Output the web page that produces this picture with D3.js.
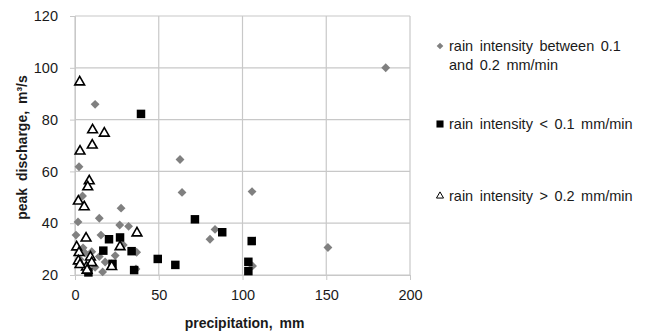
<!DOCTYPE html>
<html>
<head>
<meta charset="utf-8">
<script src="https://cdn.jsdelivr.net/npm/d3@7"></script>
<style>
  body { margin: 0; background: #fff; }
  text { font-family: "Liberation Sans", Arial, sans-serif; fill: #1a1a1a; }
</style>
</head>
<body>
<div id="chart"></div>
<script>
// rain intensity between 0.1 and 0.2 mm/min
const midX = [185.5, 151, 105.7, 106, 62.7, 63.9, 83.6, 80.6, 12, 2.4, 4.5, 27.5, 14.5, 1.8, 26.7,
              32, 0.6, 15.5, 16.5, 28.8, 36.8, 36.4, 14.5, 6, 18, 3, 10, 12, 24, 4.8];
const midY = [100, 30.6, 52.2, 23.5, 64.6, 51.9, 37.6, 33.8, 85.9, 61.8, 50.5, 45.8, 41.9, 40.5, 39.3,
              38.8, 35.4, 35.4, 21.2, 31.6, 28.8, 22.3, 27.1, 28.5, 25, 26, 29, 23, 27.5, 30.5];

// rain intensity < 0.1 mm/min
const lowX = [39.4, 71.6, 87.9, 105.5, 103.5, 103.5, 20.3, 26.9, 16.9, 33.8, 49.4, 59.9, 35.3, 22.4, 8];
const lowY = [82.2, 41.5, 36.5, 33.1, 25.1, 21.5, 33.8, 34.5, 29.4, 29.2, 26.2, 23.9, 21.9, 24.3, 21];

// rain intensity > 0.2 mm/min
const highX = [2.8, 3, 10.3, 10.5, 17.5, 8.5, 7.6, 2, 5.5, 37, 6.6, 26.9, 1, 2.4, 9.2, 2, 10, 6.8, 21.9, 7.2, 3];
const highY = [94.5, 67.8, 70.1, 76, 74.7, 56.3, 54, 48.5, 46.3, 36.2, 34.2, 30.9, 30.8, 28.6, 26.9, 25.4, 24.7, 23, 23.2, 21.8, 24];

const xTicks = [0, 50, 100, 150, 200];
const yTicks = [20, 40, 60, 80, 100, 120];

const legendLabels = [
  ["rain intensity between 0.1", "and 0.2 mm/min"],
  ["rain intensity < 0.1 mm/min"],
  ["rain intensity > 0.2 mm/min"]
];

const width = 646, height = 334;
const margin = { top: 16, left: 75, right: 236, bottom: 59 };
const w = width - margin.left - margin.right;
const h = height - margin.top - margin.bottom;

const svg = d3.select("#chart")
              .append("svg")
              .attr("width", width)
              .attr("height", height);

svg.append("rect").attr("width", width).attr("height", height).attr("fill", "#fff");

const g = svg.append("g")
             .attr("transform", `translate(${margin.left},${margin.top})`);

const xScale = d3.scaleLinear().domain([0, 200]).range([0, w]);
const yScale = d3.scaleLinear().domain([20, 120]).range([h, 0]);

// grid
g.selectAll(".vgrid").data(xTicks).enter().append("line")
 .attr("x1", d => xScale(d)).attr("x2", d => xScale(d))
 .attr("y1", 0).attr("y2", h)
 .attr("stroke", "#c8c8c8").attr("stroke-width", 1.2);
g.selectAll(".hgrid").data(yTicks).enter().append("line")
 .attr("x1", 0).attr("x2", w)
 .attr("y1", d => yScale(d)).attr("y2", d => yScale(d))
 .attr("stroke", "#c8c8c8").attr("stroke-width", 1.2);

// axes
const xAxis = g.append("g")
               .attr("transform", `translate(0,${h})`)
               .call(d3.axisBottom(xScale).tickValues(xTicks).tickSize(5).tickPadding(10));
const yAxis = g.append("g")
               .call(d3.axisLeft(yScale).tickValues(yTicks).tickSize(5).tickPadding(12));
[xAxis, yAxis].forEach(a => {
  a.select(".domain").attr("stroke", "#c8c8c8");
  a.selectAll(".tick line").attr("stroke", "#c8c8c8");
  a.selectAll(".tick text").attr("font-size", 14.5).attr("font-family", "Liberation Sans, Arial").attr("fill", "#1a1a1a");
});

// axis titles
svg.append("text")
   .attr("x", margin.left + w / 2 + 2).attr("y", 328)
   .attr("text-anchor", "middle")
   .attr("font-size", 14).attr("font-weight", "bold")
   .attr("word-spacing", 3)
   .text("precipitation, mm");

svg.append("text")
   .attr("transform", `translate(27,${margin.top + h / 2 + 2}) rotate(-90)`)
   .attr("text-anchor", "middle")
   .attr("font-size", 14).attr("font-weight", "bold")
   .attr("word-spacing", 3)
   .text("peak discharge, m³/s");

// marker shapes
const diamond = d3.symbol().type(d3.symbolDiamond2).size(50);
const square = d3.symbol().type(d3.symbolSquare).size(72);
const triangle = d3.symbol().type(d3.symbolTriangle2).size(68);

const plot = g.append("g");

plot.selectAll(".mid").data(midX).enter().append("path")
    .attr("d", diamond)
    .attr("transform", (d, i) => `translate(${xScale(d)},${yScale(midY[i])})`)
    .attr("fill", "#808080");

plot.selectAll(".low").data(lowX).enter().append("path")
    .attr("d", square)
    .attr("transform", (d, i) => `translate(${xScale(d)},${yScale(lowY[i])})`)
    .attr("fill", "#000");

plot.selectAll(".high").data(highX).enter().append("path")
    .attr("d", triangle)
    .attr("transform", (d, i) => `translate(${xScale(d)},${yScale(highY[i])})`)
    .attr("fill", "#fff").attr("stroke", "#000").attr("stroke-width", 1.6);

// legend
const legendY = [46, 124, 196];
const legendMarks = [
  { d: d3.symbol().type(d3.symbolDiamond2).size(28)(), fill: "#808080", stroke: "none" },
  { d: d3.symbol().type(d3.symbolSquare).size(50)(), fill: "#000", stroke: "none" },
  { d: d3.symbol().type(d3.symbolTriangle2).size(36)(), fill: "#fff", stroke: "#000" }
];
const legend = svg.append("g");
legendLabels.forEach((lines, i) => {
  const m = legendMarks[i];
  legend.append("path")
        .attr("d", m.d)
        .attr("transform", `translate(440,${legendY[i]})`)
        .attr("fill", m.fill).attr("stroke", m.stroke).attr("stroke-width", 1);
  lines.forEach((t, j) => {
    legend.append("text")
          .attr("x", 449).attr("y", legendY[i] + 5 + j * 19)
          .attr("font-size", 14.5)
          .attr("word-spacing", 2.5)
          .text(t);
  });
});
</script>
</body>
</html>
